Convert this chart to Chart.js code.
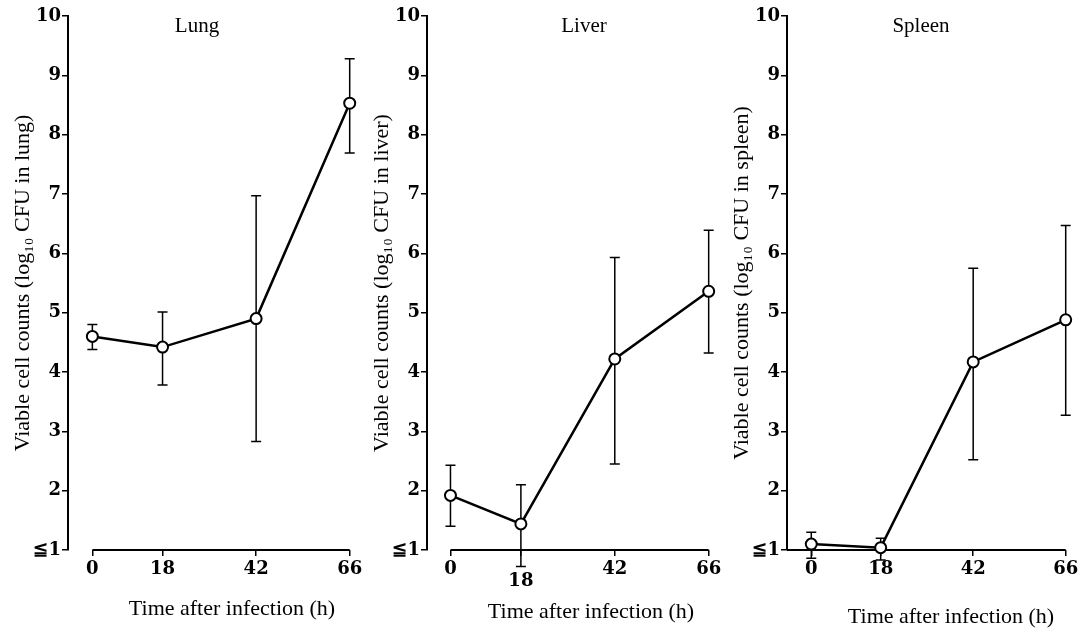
<!DOCTYPE html>
<html>
<head>
<meta charset="utf-8">
<script src="https://cdn.jsdelivr.net/npm/chart.js@4/dist/chart.umd.min.js"></script>
<style>
  html, body { margin: 0; padding: 0; background: #fff; width: 1092px; height: 628px; overflow: hidden; }
  canvas { position: absolute; top: 0; }
</style>
</head>
<body>
<canvas id="lung" width="365" height="628" style="left:0px"></canvas>
<canvas id="liver" width="365" height="628" style="left:359px"></canvas>
<canvas id="spleen" width="365" height="628" style="left:719px"></canvas>
<script>
// ---- data ----
const hours = [0, 18, 42, 66];
const xTickValues = [0, 18, 42, 66];
const yTickValues = [1, 2, 3, 4, 5, 6, 7, 8, 9, 10];

const lungMean = [4.60, 4.42, 4.90, 8.53];
const lungLow  = [4.38, 3.78, 2.83, 7.69];
const lungHigh = [4.80, 5.01, 6.97, 9.28];

const liverMean = [1.92, 1.44, 4.22, 5.36];
const liverLow  = [1.40, 0.72, 2.45, 4.32];
const liverHigh = [2.43, 2.10, 5.93, 6.39];

const spleenMean = [1.10, 1.04, 4.17, 4.88];
const spleenLow  = [0.86, 0.83, 2.52, 3.27];
const spleenHigh = [1.30, 1.20, 5.75, 6.47];

const panelTitles = ['Lung', 'Liver', 'Spleen'];
const yAxisTitles = [
  'Viable cell counts (log\u2081\u2080 CFU in lung)',
  'Viable cell counts (log\u2081\u2080 CFU in liver)',
  'Viable cell counts (log\u2081\u2080 CFU in spleen)'
];
const xAxisTitle = 'Time after infection (h)';

// ---- plugins ----
const errorBars = {
  id: 'errorBars',
  beforeDatasetsDraw(chart) {
    const { ctx, scales: { x, y } } = chart;
    chart.data.datasets.forEach(ds => {
      if (!ds.errLow) return;
      ctx.save();
      ctx.strokeStyle = '#000';
      ctx.lineWidth = 1.5;
      ds.data.forEach((p, i) => {
        const px = x.getPixelForValue(p.x);
        const yl = y.getPixelForValue(ds.errLow[i]);
        const yh = y.getPixelForValue(ds.errHigh[i]);
        ctx.beginPath();
        ctx.moveTo(px, yl); ctx.lineTo(px, yh);
        ctx.moveTo(px - 5, yl); ctx.lineTo(px + 5, yl);
        ctx.moveTo(px - 5, yh); ctx.lineTo(px + 5, yh);
        ctx.stroke();
      });
      ctx.restore();
    });
  }
};

const panelDecor = {
  id: 'panelDecor',
  beforeDatasetsDraw(chart, args, opts) {
    const { ctx, scales: { x }, chartArea } = chart;
    const y0 = chartArea.bottom;
    const xs = opts.axisFromLeft ? chartArea.left : x.getPixelForValue(xTickValues[0]);
    const xe = x.getPixelForValue(xTickValues[xTickValues.length - 1]);
    ctx.save();
    ctx.strokeStyle = '#000';
    ctx.lineWidth = 2;
    ctx.beginPath();
    ctx.moveTo(xs, y0); ctx.lineTo(xe, y0);
    ctx.stroke();
    ctx.fillStyle = '#000';
    ctx.textAlign = 'center';
    ctx.textBaseline = 'middle';
    ctx.font = '21px "Liberation Serif"';
    ctx.fillText(opts.title, chartArea.left + opts.titleDx, opts.titleY);
    ctx.font = '22px "Liberation Serif"';
    ctx.fillText(xAxisTitle, chartArea.left + opts.xTitleDx, opts.xTitleY);
    ctx.restore();
  }
};

function makePanel(id, idx, mean, low, high, cfg) {
  new Chart(document.getElementById(id), {
    type: 'line',
    data: {
      datasets: [{
        data: hours.map((h, i) => ({ x: h, y: mean[i] })),
        errLow: low,
        errHigh: high,
        borderColor: '#000',
        borderWidth: 2.5,
        tension: 0,
        pointRadius: 5.5,
        pointBorderWidth: 2,
        pointBackgroundColor: '#fff',
        pointBorderColor: '#000',
        clip: false
      }]
    },
    options: {
      responsive: false,
      devicePixelRatio: 1,
      animation: false,
      events: [],
      layout: { padding: { top: 16, left: 0, right: 0, bottom: 0 } },
      plugins: {
        legend: { display: false },
        tooltip: { enabled: false },
        panelDecor: {
          title: panelTitles[idx],
          titleDx: cfg.titleDx, titleY: 26,
          xTitleDx: 164, xTitleY: cfg.xTitleY,
          axisFromLeft: cfg.axisFromLeft
        }
      },
      scales: {
        x: {
          type: 'linear',
          min: cfg.xMin, max: cfg.xMax,
          afterBuildTicks: s => { s.ticks = xTickValues.map(v => ({ value: v })); },
          afterFit: s => { s.height = 78; s.paddingLeft = 0; s.paddingRight = 0; },
          ticks: {
            color: '#000',
            padding: 3,
            maxRotation: 0,
            autoSkip: false,
            font: ctx => ({
              family: 'DejaVu Serif', size: 18, weight: 'bold',
              lineHeight: (cfg.lowTick !== undefined && ctx.tick && ctx.tick.value === cfg.lowTick) ? 2.5 : 1.2
            })
          },
          grid: { drawOnChartArea: false, drawTicks: true, tickLength: 6, color: '#000', lineWidth: 1.5 },
          border: { display: false }
        },
        y: {
          min: 1, max: 10,
          afterBuildTicks: s => { s.ticks = yTickValues.map(v => ({ value: v })); },
          afterFit: s => { s.width = 68; s.paddingTop = 0; s.paddingBottom = 0; },
          ticks: {
            color: '#000',
            padding: 1,
            font: { family: 'DejaVu Serif', size: 18, weight: 'bold' },
            callback: v => (v === yTickValues[0] ? '\u2266' + v : String(v))
          },
          grid: { drawOnChartArea: false, drawTicks: true, tickLength: 6, color: '#000', lineWidth: 1.5 },
          border: { display: true, color: '#000', width: 2 },
          title: {
            display: true,
            text: yAxisTitles[idx],
            color: '#000',
            font: { family: 'Liberation Serif', size: 22 },
            padding: { top: 10, bottom: 0 }
          }
        }
      }
    },
    plugins: [errorBars, panelDecor]
  });
}

makePanel('lung', 0, lungMean, lungLow, lungHigh,
  { xMin: -6.25, xMax: 68, titleDx: 129, xTitleY: 609 });
makePanel('liver', 1, liverMean, liverLow, liverHigh,
  { xMin: -6.0, xMax: 68, titleDx: 157, xTitleY: 612, lowTick: 18 });
makePanel('spleen', 2, spleenMean, spleenLow, spleenHigh,
  { xMin: -6.3, xMax: 68.8, titleDx: 134, xTitleY: 617, axisFromLeft: true });
</script>
</body>
</html>
